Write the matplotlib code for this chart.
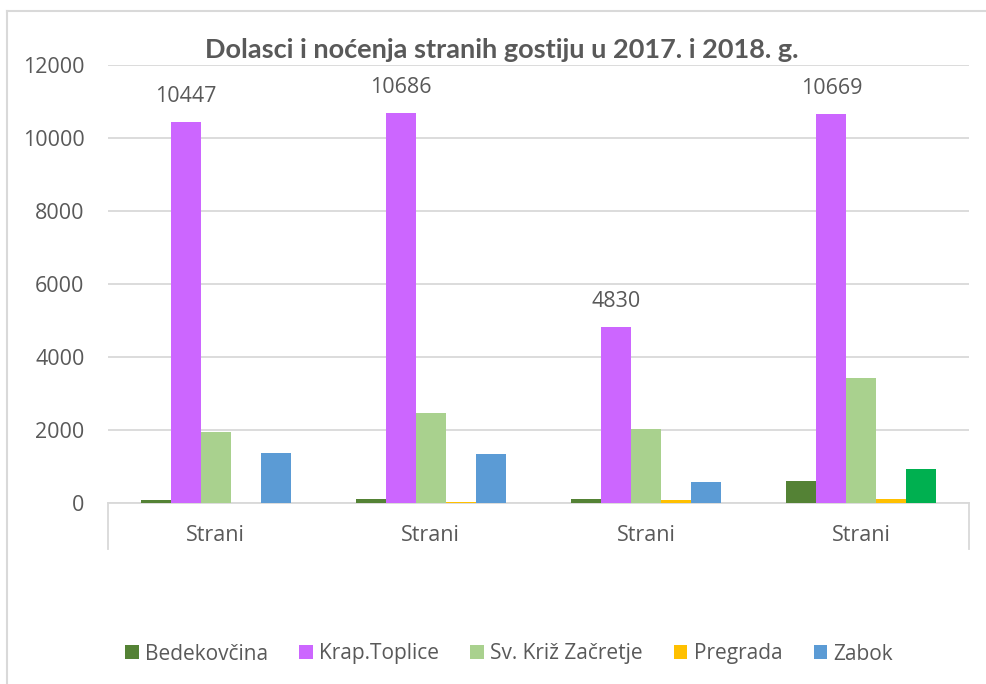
import matplotlib
matplotlib.use("Agg")
import matplotlib.pyplot as plt
import numpy as np
from matplotlib.lines import Line2D
from matplotlib.patches import Patch

categories = ["Strani", "Strani", "Strani", "Strani"]
series_names = ["Bedekovčina", "Krap.Toplice", "Sv. Križ Začretje", "Pregrada", "Zabok"]
bedekovcina = [75, 100, 110, 605]
krap_toplice = [10447, 10686, 4830, 10669]
sv_kriz = [1950, 2460, 2030, 3425]
pregrada = [10, 40, 80, 120]
zabok = [1370, 1345, 580, 935]
labels_krap = ["10447", "10686", "4830", "10669"]

colors = ["#548235", "#CC66FF", "#A9D18E", "#FFC000", "#5B9BD5"]
zabok_colors = ["#5B9BD5", "#5B9BD5", "#5B9BD5", "#00B050"]
text_color = "#595959"
grid_color = "#D9D9D9"

W, H = 986, 684
fig = plt.figure(figsize=(W / 100, H / 100), dpi=100)
ax = fig.add_axes([108 / W, (H - 503) / H, (969 - 108) / W, (503 - 65) / H])

x = np.arange(len(categories))
bw = 30 / 215.25
data = [bedekovcina, krap_toplice, sv_kriz, pregrada, zabok]
for i, (vals, col) in enumerate(zip(data, colors)):
    c = zabok_colors if i == 4 else col
    bars = ax.bar(x + (i - 2) * bw, vals, width=bw, color=c, zorder=3)
    if i == 1:
        for b, lab in zip(bars, labels_krap):
            ax.annotate(lab, (b.get_x() + b.get_width() / 2, b.get_height()),
                        xytext=(0, 18), textcoords="offset points",
                        ha="center", va="center", fontsize=15.5,
                        family="Open Sans", color=text_color)

ax.set_xlim(-0.5, len(categories) - 0.5)
ax.set_ylim(0, 12000)
ax.set_yticks(np.arange(0, 12001, 2000))
ax.yaxis.grid(True, color=grid_color, linewidth=1.3, zorder=0)
ax.set_axisbelow(True)
for s in ["top", "right", "left"]:
    ax.spines[s].set_visible(False)
ax.spines["bottom"].set_color(grid_color)
ax.spines["bottom"].set_linewidth(1.3)
ax.tick_params(axis="y", length=0, pad=17, labelsize=15.5, labelcolor=text_color)
ax.tick_params(axis="x", length=0, pad=16, labelsize=15.5, labelcolor=text_color)
ax.set_xticks(x)
ax.set_xticklabels(categories)
for lab in ax.get_xticklabels() + ax.get_yticklabels():
    lab.set_family("Open Sans")

# category-axis box edges
depth = 46 / 438
for xe in [-0.5, len(categories) - 0.5]:
    ax.add_line(Line2D([xe, xe], [0, -depth], transform=ax.get_xaxis_transform(),
                       color=grid_color, linewidth=1.3, clip_on=False))

fig.text(502 / W, 1 - 50 / H, "Dolasci i noćenja stranih gostiju u 2017. i 2018. g.",
         ha="center", va="center", fontsize=19.5, fontweight="bold",
         family="Lato", color=text_color)

handles = [Patch(facecolor=c, edgecolor="none") for c in colors]
leg = fig.legend(handles, series_names, loc="center", bbox_to_anchor=(509 / W, 1 - 654 / H),
                 ncol=5, frameon=False, prop={"family": "Open Sans", "size": 15},
                 handlelength=0.65, handleheight=0.65, handletextpad=0.3, columnspacing=1.5)
for t in leg.get_texts():
    t.set_color(text_color)

# outer chart border (top and left visible)
fig.add_artist(Line2D([7 / W, 1], [1 - 11 / H, 1 - 11 / H], transform=fig.transFigure,
                      color=grid_color, linewidth=1.5))
fig.add_artist(Line2D([7 / W, 7 / W], [0, 1 - 11 / H], transform=fig.transFigure,
                      color=grid_color, linewidth=1.5))

fig.savefig("out.png", dpi=100)
